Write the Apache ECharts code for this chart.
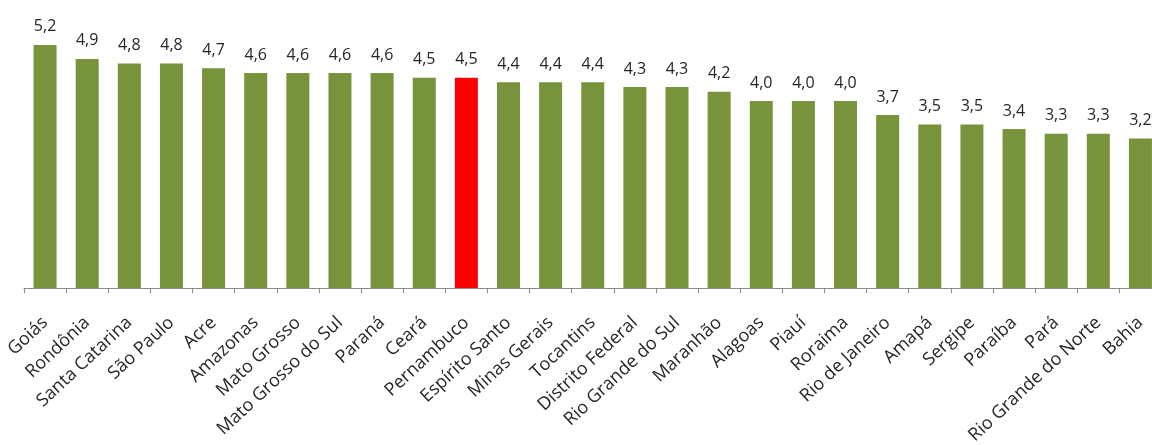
<!DOCTYPE html>
<html>
<head>
<meta charset="utf-8">
<script src="https://cdn.jsdelivr.net/npm/echarts@6/dist/echarts.min.js"></script>
<style>
  html, body { margin: 0; padding: 0; background: #fff; }
  #chart { width: 1152px; height: 445px; }
</style>
</head>
<body>
<div id="chart"></div>
<script>
// estados, em ordem decrescente
const states = [
  'Goiás', 'Rondônia', 'Santa Catarina', 'São Paulo', 'Acre', 'Amazonas',
  'Mato Grosso', 'Mato Grosso do Sul', 'Paraná', 'Ceará', 'Pernambuco',
  'Espírito Santo', 'Minas Gerais', 'Tocantins', 'Distrito Federal',
  'Rio Grande do Sul', 'Maranhão', 'Alagoas', 'Piauí', 'Roraima',
  'Rio de Janeiro', 'Amapá', 'Sergipe', 'Paraíba', 'Pará',
  'Rio Grande do Norte', 'Bahia'
]
const values = [
  5.2, 4.9, 4.8, 4.8, 4.7, 4.6, 4.6, 4.6, 4.6, 4.5, 4.5, 4.4, 4.4, 4.4,
  4.3, 4.3, 4.2, 4.0, 4.0, 4.0, 3.7, 3.5, 3.5, 3.4, 3.3, 3.3, 3.2
]
// estado em destaque
const highlight = 'Pernambuco'

const green = '#77933C'
const red = '#FF0000'

const chart = echarts.init(document.getElementById('chart'))

chart.setOption({
  animation: false,
  textStyle: { fontFamily: 'Open Sans' },
  grid: {
    left: 24,
    top: 7.5,
    width: 1137.5,
    bottom: 157,
    containLabel: false,
    // não encolher o grid para caber os rótulos (v6)
    outerBoundsMode: 'none'
  },
  xAxis: {
    type: 'category',
    data: states,
    axisLine: { lineStyle: { color: '#8c8c8c', width: 1 } },
    axisTick: { show: true, length: 5, lineStyle: { color: '#8c8c8c' } },
    axisLabel: {
      interval: 0,
      rotate: 43,
      margin: 32,
      color: '#262626',
      fontSize: 18,
      fontFamily: 'Open Sans'
    }
  },
  yAxis: {
    type: 'value',
    min: 0,
    max: 6,
    show: false,
    splitLine: { show: false }
  },
  series: [{
    type: 'bar',
    barWidth: 23,
    data: values.map((v, i) => ({
      value: v,
      itemStyle: { color: states[i] === highlight ? red : green }
    })),
    label: {
      show: true,
      position: 'top',
      distance: 10,
      color: '#262626',
      fontSize: 16,
      fontFamily: 'Open Sans',
      formatter: (p) => p.value.toFixed(1).replace('.', ',')
    }
  }]
})
</script>
</body>
</html>
